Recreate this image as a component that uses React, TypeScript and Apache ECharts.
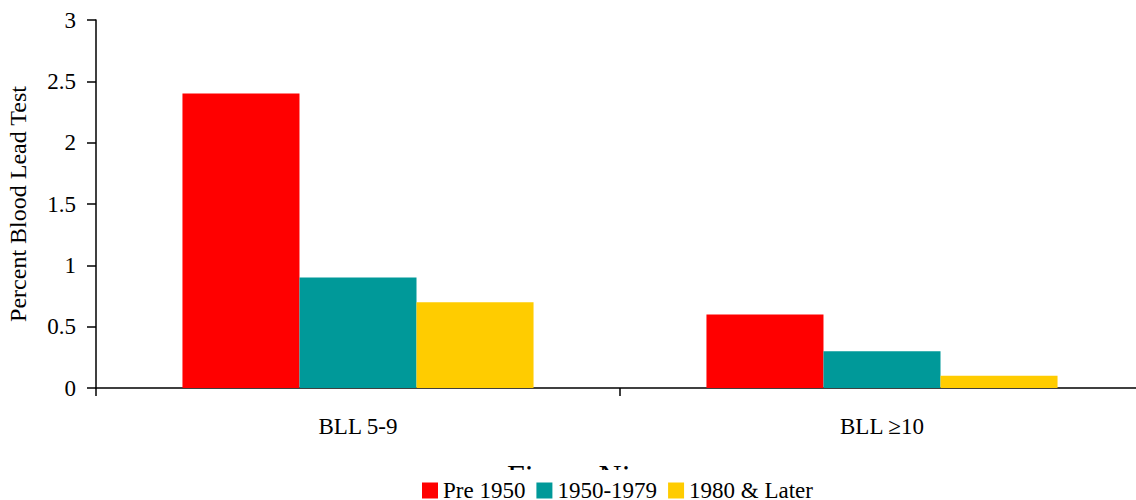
import React, { useEffect, useRef } from "react";
import * as echarts from "echarts";

const categories = ["BLL 5-9", "BLL \u226510"];
const seriesNames = ["Pre 1950", "1950-1979", "1980 & Later"];
const pre1950 = [2.4, 0.6];
const y1950to1979 = [0.9, 0.3];
const y1980later = [0.7, 0.1];
const colors = ["#FF0000", "#009999", "#FFCC00"];
const yTicks = { min: 0, max: 3, interval: 0.5 };

const FONT = "'Liberation Serif', 'Times New Roman', serif";

export default function App() {
  const ref = useRef<HTMLDivElement>(null);
  useEffect(() => {
    if (!ref.current) return;
    const chart = echarts.init(ref.current, undefined, { renderer: "svg" });
    const values = [pre1950, y1950to1979, y1980later];
    chart.setOption({
      animation: false,
      textStyle: { fontFamily: FONT },
      grid: {
        left: 96,
        right: -8,
        top: 20,
        bottom: 112,
        containLabel: false,
        outerBoundsMode: "none",
      },
      xAxis: {
        type: "category",
        data: categories,
        axisLine: { show: true, lineStyle: { color: "#000", width: 1.5 } },
        axisTick: { show: true, length: 8, lineStyle: { color: "#000", width: 1.5 } },
        axisLabel: { color: "#000", fontSize: 23, fontFamily: FONT, margin: 27 },
      },
      yAxis: {
        type: "value",
        min: yTicks.min,
        max: yTicks.max,
        interval: yTicks.interval,
        name: "Percent Blood Lead Test",
        nameLocation: "middle",
        nameGap: 66,
        nameTextStyle: { color: "#000", fontSize: 24, fontFamily: FONT },
        splitLine: { show: false },
        axisLine: { show: true, lineStyle: { color: "#000", width: 1.5 } },
        axisTick: { show: true, length: 9, lineStyle: { color: "#000", width: 1.5 } },
        axisLabel: { color: "#000", fontSize: 23, fontFamily: FONT, margin: 20 },
      },
      legend: {
        data: seriesNames,
        left: 422,
        top: 479,
        itemWidth: 16,
        itemHeight: 16,
        itemGap: 11,
        icon: "rect",
        padding: 0,
        textStyle: { color: "#000", fontSize: 23, fontFamily: FONT, lineHeight: 19 },
      },
      graphic: [
        {
          type: "text",
          left: 507,
          top: 460,
          z: 0,
          style: { text: "Figure Nine", fill: "#000", font: "32px " + FONT },
        },
        {
          type: "rect",
          z: 1,
          shape: { x: 0, y: 470, width: 1136, height: 30 },
          style: { fill: "#fff" },
        },
      ],
      series: seriesNames.map((name, i) => ({
        name,
        type: "bar",
        data: values[i],
        barGap: 0,
        barCategoryGap: "33%",
        itemStyle: { color: colors[i] },
        z: 2,
      })),
    });
    return () => chart.dispose();
  }, []);
  return (
    <div
      ref={ref}
      style={{ position: "absolute", left: 0, top: 0, width: 1136, height: 500, background: "#fff" }}
    />
  );
}
